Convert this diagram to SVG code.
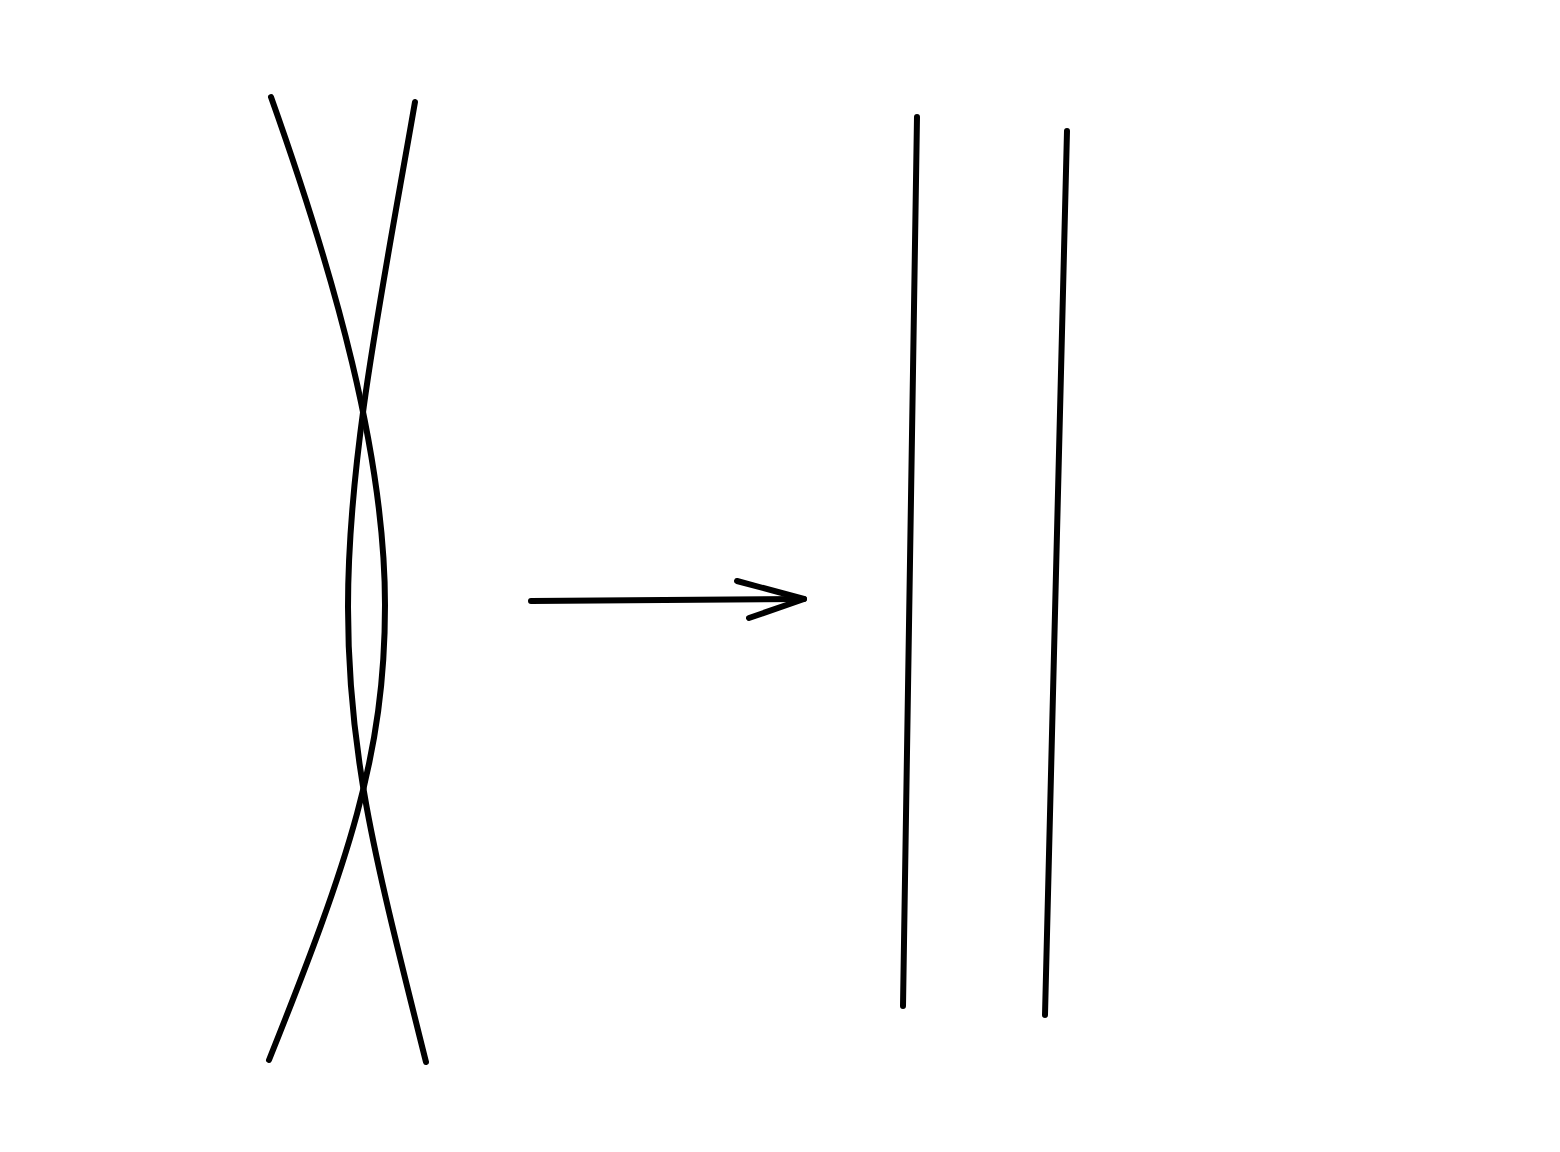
<svg xmlns="http://www.w3.org/2000/svg" width="1560" height="1152" viewBox="0 0 1560 1152">
<style>
.s{fill:none;stroke:#000;stroke-width:6;stroke-linecap:round;stroke-linejoin:round}
</style>
<rect width="1560" height="1152" fill="#fff"/>
<g id="crossing-arcs">
<path class="s" d="M271,97 C335,277 385,455 385,605 C385,755 349,860 269,1060"/>
<path class="s" d="M415,102 C382,292 348,457 348,607 C348,757 376,862 426,1062"/>
</g>
<g id="connectors">
<path class="s" d="M531,601 L804,599"/>
<path class="s" d="M737,581 L804,599 L749,618"/>
</g>
<g id="parallel-lines">
<path class="s" d="M917,117 L903,1006"/>
<path class="s" d="M1067,131 L1045,1015"/>
</g>
</svg>
